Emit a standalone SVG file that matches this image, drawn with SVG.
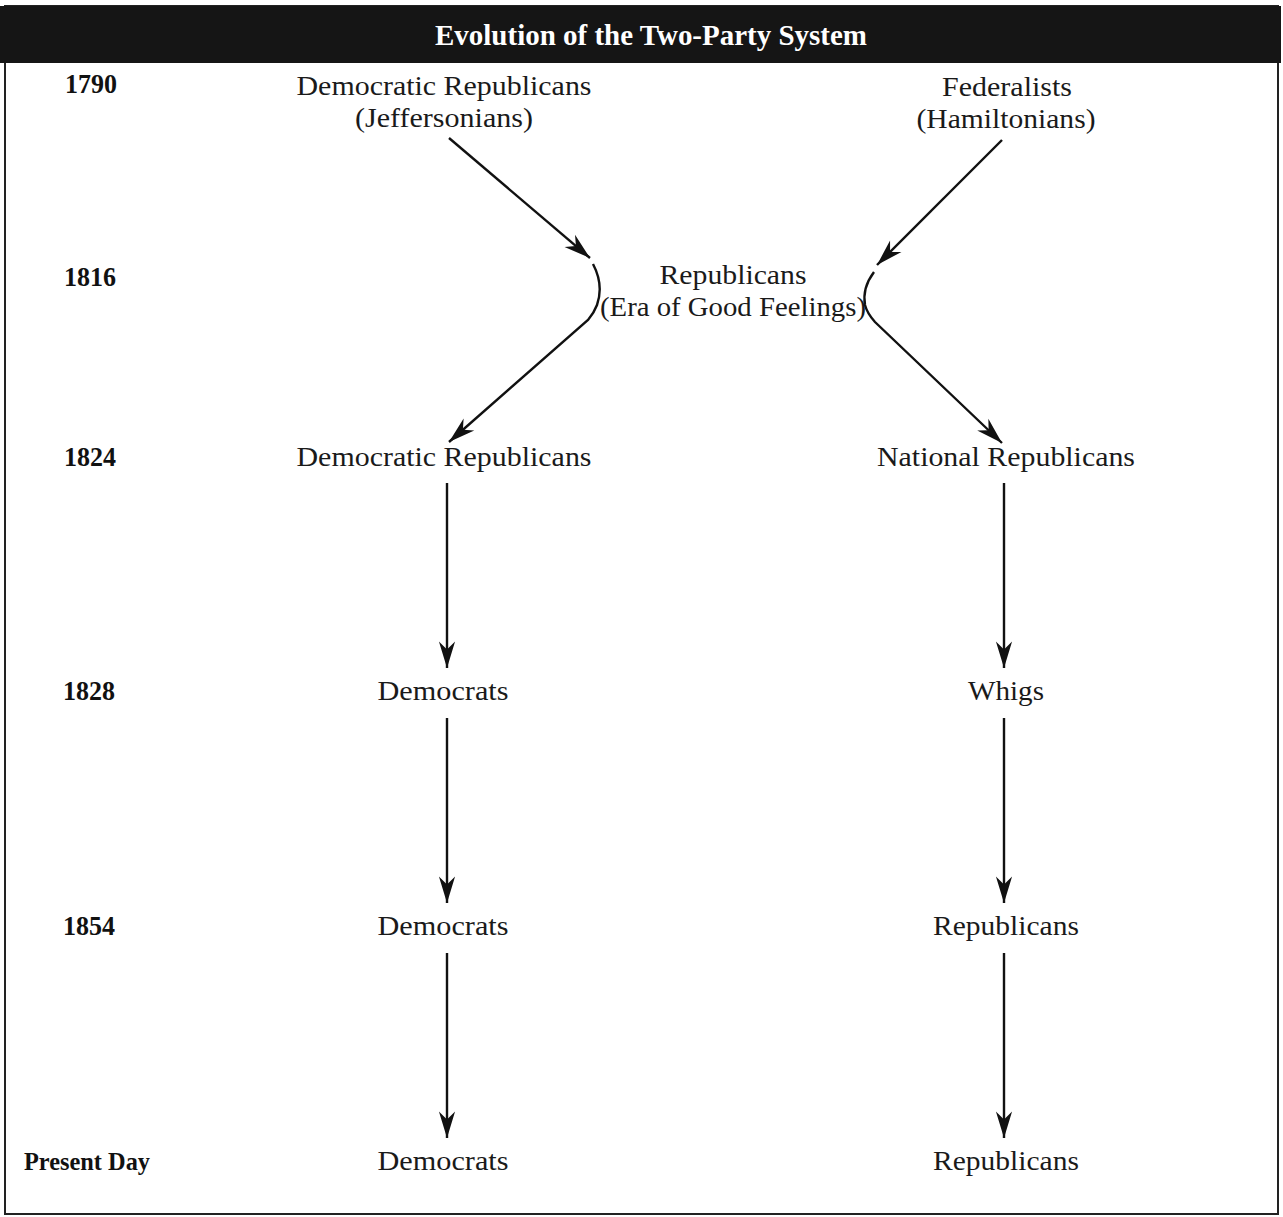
<svg xmlns="http://www.w3.org/2000/svg" width="1283" height="1217" viewBox="0 0 1283 1217">
<style>
.t{font-family:"Liberation Serif","Times New Roman",serif;font-size:27px;fill:#1a1a1a;text-anchor:middle}
.y{font-family:"Liberation Serif","Times New Roman",serif;font-size:27px;font-weight:bold;fill:#111;text-anchor:middle}
.h{font-family:"Liberation Serif","Times New Roman",serif;font-size:30px;font-weight:bold;fill:#fff;text-anchor:middle}
.c{fill:none;stroke:#111;stroke-width:2.4}
</style>
<defs>
<marker id="ah" markerUnits="userSpaceOnUse" markerWidth="30" markerHeight="20" viewBox="-24 -8 26 16" refX="0" refY="0" orient="auto">
<path d="M0,0 L-23,-7 L-16,0 L-23,7 Z" fill="#111"/>
</marker>
</defs>
<rect x="0" y="0" width="1283" height="1217" fill="#fff"/>
<rect x="5" y="6" width="1273" height="1208" fill="none" stroke="#222" stroke-width="2"/>
<g id="header">
<rect x="0" y="6" width="1281" height="57" fill="#151515"/>
<text class="h" x="651" y="45" textLength="432" lengthAdjust="spacingAndGlyphs">Evolution of the Two-Party System</text>
</g>
<g id="years">
<text class="y" x="91" y="93" textLength="52" lengthAdjust="spacingAndGlyphs">1790</text>
<text class="y" x="90" y="286" textLength="52" lengthAdjust="spacingAndGlyphs">1816</text>
<text class="y" x="90" y="466" textLength="52" lengthAdjust="spacingAndGlyphs">1824</text>
<text class="y" x="89" y="700" textLength="52" lengthAdjust="spacingAndGlyphs">1828</text>
<text class="y" x="89" y="935" textLength="52" lengthAdjust="spacingAndGlyphs">1854</text>
<text class="y" x="87" y="1170" textLength="126" lengthAdjust="spacingAndGlyphs" style="font-size:26px">Present Day</text>
</g>
<g id="dem-rep-1790">
<text class="t" x="444" y="95" textLength="295" lengthAdjust="spacingAndGlyphs">Democratic Republicans</text>
<text class="t" x="444" y="127" textLength="178" lengthAdjust="spacingAndGlyphs">(Jeffersonians)</text>
</g>
<g id="federalists-1790">
<text class="t" x="1007" y="96" textLength="130" lengthAdjust="spacingAndGlyphs">Federalists</text>
<text class="t" x="1006" y="128" textLength="179" lengthAdjust="spacingAndGlyphs">(Hamiltonians)</text>
</g>
<g id="republicans-1816">
<text class="t" x="733" y="284" textLength="147" lengthAdjust="spacingAndGlyphs">Republicans</text>
<text class="t" x="733" y="316" textLength="266" lengthAdjust="spacingAndGlyphs">(Era of Good Feelings)</text>
</g>
<g id="dem-rep-1824">
<text class="t" x="444" y="466" textLength="295" lengthAdjust="spacingAndGlyphs">Democratic Republicans</text>
</g>
<g id="national-rep-1824">
<text class="t" x="1006" y="466" textLength="258" lengthAdjust="spacingAndGlyphs">National Republicans</text>
</g>
<g id="democrats-1828">
<text class="t" x="443" y="700" textLength="131" lengthAdjust="spacingAndGlyphs">Democrats</text>
</g>
<g id="whigs-1828">
<text class="t" x="1006" y="700" textLength="76" lengthAdjust="spacingAndGlyphs">Whigs</text>
</g>
<g id="democrats-1854">
<text class="t" x="443" y="935" textLength="131" lengthAdjust="spacingAndGlyphs">Democrats</text>
</g>
<g id="republicans-1854">
<text class="t" x="1006" y="935" textLength="146" lengthAdjust="spacingAndGlyphs">Republicans</text>
</g>
<g id="democrats-present">
<text class="t" x="443" y="1170" textLength="131" lengthAdjust="spacingAndGlyphs">Democrats</text>
</g>
<g id="republicans-present">
<text class="t" x="1006" y="1170" textLength="146" lengthAdjust="spacingAndGlyphs">Republicans</text>
</g>
<g id="connectors">
<path class="c" d="M449,138 L590,258" marker-end="url(#ah)"/>
<path class="c" d="M1002,140 L877,265" marker-end="url(#ah)"/>
<path class="c" d="M593,264 Q604,285 597,305 Q594,313 588,320 L449,442" marker-end="url(#ah)"/>
<path class="c" d="M874,272 Q862,288 865,305 Q867,313 875,322 L1002,443" marker-end="url(#ah)"/>
<path class="c" d="M447,483 L447,668" marker-end="url(#ah)"/>
<path class="c" d="M447,718 L447,903" marker-end="url(#ah)"/>
<path class="c" d="M447,953 L447,1138" marker-end="url(#ah)"/>
<path class="c" d="M1004,483 L1004,668" marker-end="url(#ah)"/>
<path class="c" d="M1004,718 L1004,903" marker-end="url(#ah)"/>
<path class="c" d="M1004,953 L1004,1138" marker-end="url(#ah)"/>
</g>
</svg>
